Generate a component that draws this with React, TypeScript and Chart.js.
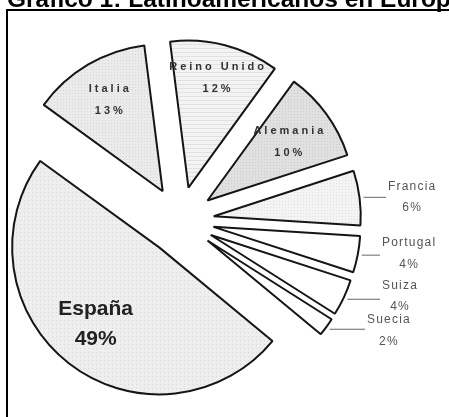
import React, { useEffect, useRef } from "react";
import { Chart, registerables } from "chart.js";

Chart.register(...registerables);

// ---- data ----
const categories = ["Italia", "Reino Unido", "Alemania", "Francia", "Portugal", "Suiza", "Suecia", "España"];
const shares = [13, 12, 10, 6, 4, 4, 2, 49];
const titleText = "Gráfico 1: Latinoamericanos en Europa";

// ---- layout / style (not data) ----
const W = 449;
const H = 417;
const RADIUS = 147;
const EXPLODE = 34;
const ROTATION = -54;
const insideFactor = [0.72, 0.77, 0.68, 0, 0, 0, 0, 0.66];
const leaderEndX = [0, 0, 0, 386, 380, 380, 365, 0];
const nameDy = [0, 0, 0, -11, -12, -14, -10, 0];
const pctDy = [0, 0, 0, 10, 10, 7, 12, 0];
const FONT = '"Liberation Sans", Arial, Helvetica, sans-serif';

type Pat = { base: string; mark: string; step: number; kind: "dots" | "lines" | "none" };
const fills: Pat[] = [
  { base: "#ebebeb", mark: "#d6d6d6", step: 3, kind: "dots" },
  { base: "#f3f3f3", mark: "#e1e1e1", step: 4, kind: "lines" },
  { base: "#e0e0e0", mark: "#cdcdcd", step: 3, kind: "dots" },
  { base: "#f4f4f4", mark: "#e0e0e0", step: 3, kind: "dots" },
  { base: "#ffffff", mark: "#ffffff", step: 3, kind: "none" },
  { base: "#ffffff", mark: "#ffffff", step: 3, kind: "none" },
  { base: "#ffffff", mark: "#ffffff", step: 3, kind: "none" },
  { base: "#eeeeee", mark: "#d8d8d8", step: 4, kind: "dots" },
];

function makePattern(p: Pat): CanvasPattern | string {
  if (p.kind === "none") return p.base;
  const c = document.createElement("canvas");
  c.width = p.step;
  c.height = p.step;
  const g = c.getContext("2d")!;
  g.fillStyle = p.base;
  g.fillRect(0, 0, p.step, p.step);
  g.fillStyle = p.mark;
  if (p.kind === "dots") g.fillRect(0, 0, 1, 1);
  else g.fillRect(0, 0, p.step, 1);
  return g.createPattern(c, "repeat") || p.base;
}

const explodePlugin = {
  id: "explode",
  afterDatasetsUpdate(chart: any) {
    const meta = chart.getDatasetMeta(0);
    meta.data.forEach((arc: any) => {
      const mid = (arc.startAngle + arc.endAngle) / 2;
      arc.x += Math.cos(mid) * EXPLODE;
      arc.y += Math.sin(mid) * EXPLODE;
    });
  },
};

const framePlugin = {
  id: "frame",
  beforeDraw(chart: any) {
    const ctx: CanvasRenderingContext2D = chart.ctx;
    ctx.save();
    ctx.fillStyle = "#ffffff";
    ctx.fillRect(0, 0, W, H);
    ctx.strokeStyle = "#000000";
    ctx.lineWidth = 2;
    ctx.strokeRect(7, 10, W + 20, H + 20);
    ctx.fillStyle = "#000000";
    ctx.font = `bold 24.5px ${FONT}`;
    ctx.textAlign = "left";
    ctx.textBaseline = "alphabetic";
    ctx.fillText(titleText, 7, 7);
    ctx.restore();
  },
};

const labelPlugin = {
  id: "sliceLabels",
  afterDatasetsDraw(chart: any) {
    const ctx: CanvasRenderingContext2D = chart.ctx;
    const meta = chart.getDatasetMeta(0);
    ctx.save();
    meta.data.forEach((arc: any, i: number) => {
      const mid = (arc.startAngle + arc.endAngle) / 2;
      const cx = Math.cos(mid);
      const sy = Math.sin(mid);
      const r = arc.outerRadius;
      const name = categories[i];
      const pct = `${shares[i]}%`;
      ctx.textBaseline = "middle";
      if (insideFactor[i] > 0) {
        const lx = arc.x + cx * r * insideFactor[i];
        const ly = arc.y + sy * r * insideFactor[i];
        ctx.textAlign = "center";
        if (i === 7) {
          ctx.fillStyle = "#222222";
          ctx.font = `bold 21px ${FONT}`;
          (ctx as any).letterSpacing = "0px";
          ctx.fillText(name, lx - 4, ly - 15);
          ctx.fillText(pct, lx - 4, ly + 15);
        } else {
          ctx.fillStyle = "#333333";
          ctx.font = `bold 11px ${FONT}`;
          (ctx as any).letterSpacing = "3px";
          ctx.fillText(name, lx + 1.5, ly - 11);
          ctx.fillText(pct, lx + 1.5, ly + 11);
        }
      } else {
        const sx = arc.x + cx * (r + 4);
        const sY = arc.y + sy * (r + 4);
        const ex = leaderEndX[i];
        ctx.strokeStyle = "#666666";
        ctx.lineWidth = 1;
        ctx.beginPath();
        ctx.moveTo(sx, sY);
        ctx.lineTo(ex, sY);
        ctx.stroke();
        ctx.fillStyle = "#555555";
        ctx.font = `12px ${FONT}`;
        (ctx as any).letterSpacing = "1.2px";
        ctx.textAlign = "left";
        const nameW = ctx.measureText(name).width;
        ctx.fillText(name, ex + 2, sY + nameDy[i]);
        ctx.textAlign = "center";
        ctx.fillText(pct, ex + 2 + nameW / 2, sY + pctDy[i]);
      }
    });
    ctx.restore();
  },
};

export default function App() {
  const ref = useRef<HTMLCanvasElement | null>(null);

  useEffect(() => {
    if (!ref.current) return;
    const chart = new Chart(ref.current, {
      type: "pie",
      data: {
        labels: categories,
        datasets: [
          {
            data: shares,
            backgroundColor: fills.map(makePattern) as any,
            borderColor: "#151515",
            borderWidth: 2,
            radius: RADIUS,
          } as any,
        ],
      },
      options: {
        responsive: false,
        animation: false,
        devicePixelRatio: 1,
        rotation: ROTATION,
        layout: { padding: { left: 0, right: W - 360, top: 30, bottom: 6 } },
        plugins: {
          legend: { display: false },
          tooltip: { enabled: false },
          title: { display: false },
        },
      },
      plugins: [framePlugin, explodePlugin, labelPlugin],
    });
    return () => chart.destroy();
  }, []);

  return (
    <div style={{ position: "absolute", left: 0, top: 0, width: W, height: H }}>
      <canvas ref={ref} width={W} height={H} style={{ display: "block" }} />
    </div>
  );
}
